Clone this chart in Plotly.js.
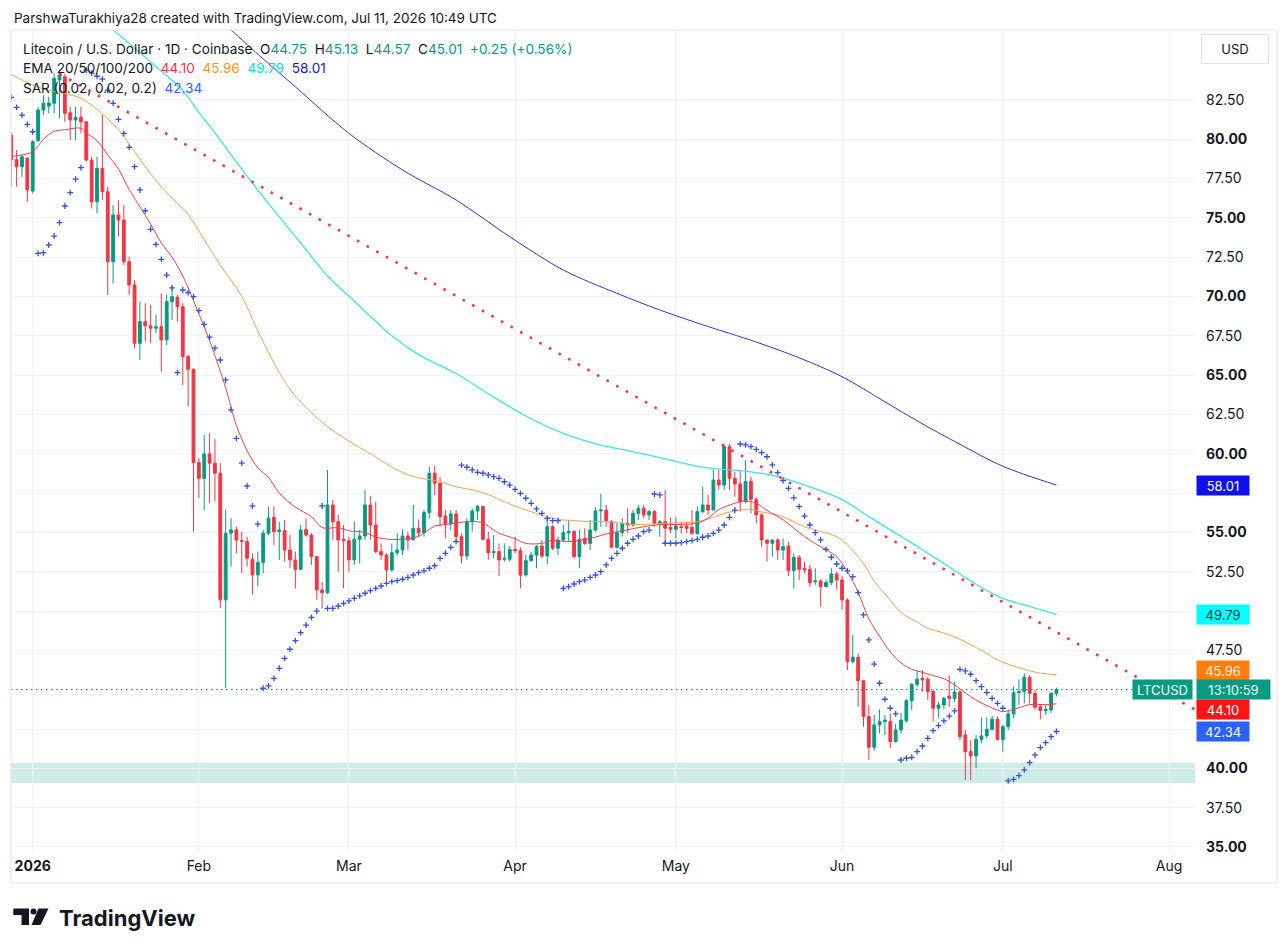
<!DOCTYPE html>
<html>
<head>
<meta charset="utf-8">
<script src="https://cdn.plot.ly/plotly-3.0.1.min.js"></script>
<style>
  html, body { margin: 0; padding: 0; background: #ffffff; }
  #chart { width: 1288px; height: 952px; }
</style>
</head>
<body>
<div id="chart"></div>
<script>
// LTC/USD daily, Dec 28 2025 .. Jul 11 2026 (one candle per day)
const firstDay = [2025, 11, 28];

const opens = [
  80.26, 78.70, 78.25, 78.80, 76.70, 79.90, 81.85, 82.10, 82.28, 83.76,
  83.97, 81.68, 81.22, 81.39, 81.11, 78.67, 76.02, 78.14, 76.66, 72.21,
  75.18, 74.86, 72.21, 70.73, 67.02, 68.40, 68.13, 67.98, 68.08, 67.24,
  69.67, 69.95, 69.35, 66.18, 65.37, 59.44, 58.44, 59.99, 59.40, 58.76,
  50.71, 54.95, 55.16, 54.48, 54.42, 53.29, 52.30, 53.08, 54.95, 55.96,
  55.05, 55.11, 53.88, 53.25, 52.65, 55.19, 54.83, 53.46, 51.34, 51.17,
  56.74, 55.68, 54.56, 54.47, 53.25, 54.56, 54.77, 56.74, 55.47, 53.78,
  53.56, 52.61, 53.71, 53.88, 54.77, 54.52, 55.26, 54.98, 56.26, 58.76,
  58.12, 56.04, 55.53, 56.17, 54.73, 53.50, 55.68, 56.36, 56.64, 54.56,
  53.71, 53.78, 53.29, 53.29, 53.92, 53.84, 52.29, 53.20, 53.56, 54.13,
  53.50, 55.36, 53.99, 54.52, 54.98, 55.05, 53.46, 54.62, 54.30, 55.15,
  56.36, 56.42, 55.68, 54.05, 54.98, 55.58, 55.47, 56.21, 56.53, 56.11,
  56.32, 55.58, 55.68, 55.32, 55.20, 55.36, 55.41, 55.32, 54.94, 56.32,
  56.74, 56.42, 58.33, 58.01, 60.45, 58.44, 58.08, 56.95, 58.23, 57.10,
  56.11, 54.52, 54.31, 54.52, 53.88, 54.14, 52.57, 53.42, 52.72, 52.65,
  51.87, 51.91, 51.55, 51.81, 52.36, 51.97, 50.70, 46.78, 47.06, 45.57,
  43.29, 41.34, 42.76, 42.97, 42.97, 41.70, 42.44, 43.03, 44.30, 45.34,
  45.72, 45.66, 44.88, 43.82, 44.03, 44.60, 44.45, 44.85, 42.12, 41.06,
  40.79, 41.84, 42.06, 42.48, 43.12, 41.84, 42.65, 43.46, 44.81, 44.87,
  45.79, 44.77, 43.92, 43.67, 43.71, 44.75
];
const highs = [
  80.40, 79.31, 79.00, 78.80, 79.94, 82.06, 82.80, 82.70, 84.18, 84.39,
  84.18, 82.06, 82.06, 82.06, 81.11, 78.88, 78.88, 81.53, 76.98, 75.81,
  76.13, 75.81, 72.53, 71.04, 69.67, 69.57, 69.46, 68.83, 70.20, 70.10,
  70.63, 70.10, 69.57, 66.28, 65.43, 59.71, 61.20, 61.30, 60.92, 59.40,
  56.43, 55.90, 55.37, 55.05, 54.73, 53.67, 53.78, 55.16, 56.64, 56.64,
  55.68, 55.79, 54.83, 53.78, 55.47, 55.89, 54.94, 53.50, 51.87, 58.97,
  57.06, 56.11, 55.47, 54.73, 55.68, 55.15, 57.70, 57.31, 56.95, 54.30,
  53.67, 54.30, 54.94, 55.19, 55.05, 56.74, 55.83, 56.42, 59.18, 59.22,
  58.54, 56.42, 56.42, 56.42, 54.94, 55.89, 56.53, 56.74, 56.68, 55.05,
  54.83, 54.30, 54.30, 54.13, 54.73, 54.05, 53.56, 53.78, 54.20, 54.52,
  56.00, 55.47, 54.73, 55.47, 55.79, 55.15, 55.15, 55.26, 55.79, 56.59,
  57.44, 56.74, 55.79, 55.58, 55.89, 56.53, 56.42, 56.74, 56.74, 56.42,
  56.42, 55.79, 57.70, 55.96, 55.96, 55.68, 55.68, 56.42, 56.64, 57.91,
  57.38, 58.97, 58.97, 60.62, 60.62, 58.86, 58.97, 59.60, 58.54, 57.20,
  56.21, 54.52, 54.52, 54.62, 54.62, 54.41, 53.67, 53.56, 53.14, 52.93,
  52.72, 52.02, 52.02, 52.72, 52.50, 52.23, 50.81, 48.48, 47.31, 45.62,
  44.03, 43.39, 43.75, 43.39, 43.50, 42.82, 43.50, 44.39, 45.41, 46.25,
  46.25, 45.83, 44.98, 44.24, 44.55, 45.90, 45.50, 45.00, 42.44, 41.80,
  42.12, 43.24, 43.24, 43.33, 43.29, 42.75, 43.71, 45.19, 45.66, 46.04,
  45.94, 44.98, 44.03, 44.03, 44.87, 45.13
];
const lows = [
  77.00, 76.98, 77.60, 76.02, 76.55, 79.84, 81.53, 81.64, 81.64, 81.32,
  81.11, 79.94, 79.94, 80.37, 78.57, 75.60, 75.28, 76.13, 70.09, 70.83,
  73.80, 72.00, 70.09, 66.70, 65.96, 67.13, 67.02, 67.66, 65.22, 66.92,
  68.51, 68.40, 64.37, 63.00, 55.05, 57.17, 56.43, 56.85, 56.96, 50.18,
  45.09, 52.83, 53.67, 52.40, 52.83, 51.03, 51.56, 52.40, 54.84, 54.20,
  53.25, 53.14, 52.72, 51.44, 52.61, 54.73, 52.93, 50.70, 50.17, 51.08,
  54.52, 52.50, 51.44, 52.50, 52.93, 53.03, 54.52, 54.52, 53.67, 53.25,
  51.76, 52.50, 53.56, 53.56, 53.88, 54.52, 54.73, 54.73, 55.89, 57.38,
  55.36, 54.62, 55.15, 54.41, 53.03, 53.25, 55.05, 55.79, 54.52, 53.25,
  53.35, 52.23, 53.14, 53.14, 53.67, 51.44, 52.19, 53.14, 52.72, 53.35,
  52.99, 53.88, 53.56, 54.41, 54.41, 53.35, 52.72, 54.20, 53.88, 55.05,
  55.36, 55.36, 53.99, 53.99, 54.73, 54.94, 55.36, 55.79, 55.89, 55.79,
  55.36, 54.73, 54.35, 54.94, 54.62, 54.94, 54.94, 54.84, 54.84, 56.21,
  56.11, 56.42, 57.70, 57.70, 57.70, 57.27, 56.32, 56.85, 56.21, 55.58,
  54.09, 53.14, 53.46, 53.25, 53.25, 52.23, 51.44, 51.97, 52.40, 51.55,
  51.66, 50.28, 51.51, 51.66, 51.34, 50.07, 46.25, 46.68, 43.92, 42.65,
  40.53, 41.12, 42.23, 42.12, 41.27, 41.63, 42.23, 42.90, 43.71, 45.19,
  44.88, 44.35, 42.97, 43.18, 43.75, 43.92, 44.20, 41.80, 39.26, 39.26,
  40.00, 41.59, 41.90, 42.40, 41.80, 41.06, 42.44, 43.20, 44.03, 44.13,
  44.13, 43.71, 43.12, 43.39, 43.50, 44.57
];
const closes = [
  78.70, 78.25, 78.88, 76.77, 79.84, 81.85, 82.28, 82.30, 83.86, 84.08,
  81.64, 81.22, 81.39, 81.11, 78.67, 76.02, 78.14, 76.66, 72.21, 75.18,
  74.86, 72.21, 70.73, 67.02, 68.40, 68.13, 67.98, 68.08, 67.24, 69.67,
  69.99, 69.35, 66.18, 65.37, 59.44, 58.44, 59.99, 59.40, 58.76, 50.71,
  54.95, 55.16, 54.52, 54.42, 53.36, 52.30, 53.08, 54.95, 55.90, 55.05,
  55.15, 53.88, 53.25, 52.65, 55.15, 54.83, 53.46, 51.34, 51.17, 56.74,
  55.68, 54.52, 54.47, 53.25, 54.56, 54.77, 56.74, 55.47, 53.78, 53.56,
  52.61, 53.71, 53.88, 54.77, 54.52, 55.26, 54.98, 56.26, 58.76, 58.12,
  56.00, 55.53, 56.17, 54.73, 53.50, 55.68, 56.36, 56.64, 54.56, 53.71,
  53.78, 53.25, 53.35, 53.92, 53.84, 52.29, 53.20, 53.56, 54.09, 53.50,
  55.36, 53.99, 54.52, 54.98, 55.05, 53.46, 54.56, 54.30, 55.15, 56.36,
  56.42, 55.75, 54.05, 54.98, 55.58, 55.47, 56.21, 56.53, 56.11, 56.32,
  55.58, 55.68, 55.26, 55.20, 55.41, 55.32, 55.26, 54.94, 56.32, 56.74,
  56.42, 58.33, 58.01, 60.45, 58.44, 58.08, 56.95, 58.23, 57.10, 56.11,
  54.52, 54.31, 54.52, 53.88, 54.09, 52.57, 53.42, 52.65, 52.61, 51.81,
  51.91, 51.55, 51.81, 52.36, 51.97, 50.70, 46.78, 47.06, 45.57, 43.29,
  41.34, 42.76, 42.97, 43.07, 41.70, 42.44, 43.07, 44.30, 45.34, 45.66,
  45.62, 44.88, 43.82, 44.03, 44.45, 44.45, 44.85, 42.01, 41.06, 40.79,
  41.84, 42.06, 42.48, 43.12, 41.84, 42.65, 43.46, 44.81, 44.87, 45.79,
  44.77, 43.88, 43.67, 43.75, 44.76, 45.01
];

// Parabolic SAR (0.02, 0.02, 0.2), one dot per day
const sar = [
  82.66, 82.02, 81.53, 80.94, 80.47, 72.74, 72.78, 73.27, 73.84, 74.69,
  75.75, 76.60, 77.46, 78.19, 84.39, 84.20, 84.00, 83.82, 83.12, 82.28,
  81.26, 80.37, 79.48, 78.25, 76.77, 75.45, 74.27, 73.31, 72.36, 71.36,
  70.55, 65.16, 70.41, 70.24, 69.99, 69.10, 68.23, 67.41, 66.71, 65.96,
  64.69, 62.79, 60.98, 59.40, 57.95, 56.68, 55.52, 45.09, 45.24, 45.72,
  46.36, 46.99, 47.57, 48.12, 48.63, 49.11, 49.60, 50.00, 56.68, 50.17,
  50.17, 50.32, 50.49, 50.64, 50.81, 50.96, 51.13, 51.30, 51.44, 51.59,
  51.76, 51.87, 51.93, 52.02, 52.14, 52.29, 52.44, 52.55, 52.72, 52.88,
  53.35, 53.67, 54.05, 54.41, 59.28, 59.14, 58.97, 58.82, 58.76, 58.65,
  58.54, 58.44, 58.22, 58.01, 57.74, 57.48, 57.17, 56.85, 56.49, 56.21,
  55.89, 55.75, 55.75, 51.44, 51.55, 51.72, 51.87, 51.97, 52.14, 52.29,
  52.50, 52.93, 53.35, 53.67, 53.99, 54.31, 54.56, 54.77, 55.05, 55.15,
  57.44, 57.38, 54.31, 54.31, 54.31, 54.35, 54.41, 54.48, 54.56, 54.69,
  54.77, 54.94, 55.15, 55.47, 55.96, 56.42, 60.62, 60.56, 60.45, 60.28,
  60.07, 59.81, 59.29, 58.80, 58.30, 57.80, 57.20, 56.64, 56.04, 55.47,
  54.98, 54.52, 53.92, 53.42, 52.99, 52.72, 52.55, 52.19, 51.17, 49.75,
  48.16, 46.63, 45.41, 44.39, 43.82, 43.46, 40.53, 40.64, 40.70, 41.06,
  41.42, 41.91, 42.40, 42.72, 43.02, 43.32, 43.65, 46.29, 46.19, 45.98,
  45.57, 45.19, 44.81, 44.45, 44.13, 43.82, 39.20, 39.30, 39.54, 39.90,
  40.36, 40.85, 41.32, 41.63, 42.01, 42.34
];

// EMA lines, day number (1 = Dec 28) -> value
const ema20Day = [1, 5, 7, 9, 11, 14, 15, 17, 19, 21, 23, 25, 27, 29, 31, 33, 36, 38, 41, 43,
  45, 47, 49, 51, 54, 57, 59, 62, 64, 67, 69, 72, 75, 77, 80, 82, 84, 87, 89, 90,
  92, 95, 97, 100, 102, 105, 107, 110, 112, 115, 118, 122, 126, 129, 131, 133, 136, 138, 140, 142,
  145, 148, 150, 153, 155, 157, 159, 161, 163, 165, 167, 169, 171, 173, 175, 177, 180, 182, 185, 186,
  189, 191, 194, 196];
const ema20Val = [78.9, 79.2, 80.0, 80.5, 80.6, 80.7, 80.4, 79.9, 79.0, 78.1, 76.8, 75.7, 74.6, 73.4, 72.5, 71.3, 68.9, 67.2, 64.2, 61.8,
  60.2, 59.1, 58.5, 57.5, 56.6, 56.0, 55.3, 55.3, 55.1, 55.0, 54.7, 54.55, 54.6, 54.75, 55.4, 55.5, 55.6, 55.7, 55.6, 55.4,
  54.95, 54.6, 54.3, 54.3, 54.5, 54.4, 54.5, 54.7, 54.9, 55.1, 55.3, 55.5, 55.5, 55.6, 55.9, 56.45, 56.85, 57.0, 56.85, 56.4,
  55.8, 55.0, 54.5, 53.9, 53.45, 52.5, 51.2, 49.5, 48.4, 47.4, 46.7, 46.3, 46.1, 45.9, 45.7, 45.3, 44.55, 44.15, 43.7, 43.6,
  43.85, 44.05, 44.05, 44.10];

const ema50Day = [1, 5, 8, 11, 14, 17, 21, 24, 27, 30, 34, 37, 40, 44, 48, 53, 59, 64, 68, 72,
  76, 81, 84, 87, 90, 93, 96, 100, 103, 106, 109, 112, 117, 123, 129, 132, 134, 137, 139, 141,
  143, 145, 149, 155, 157, 160, 162, 165, 167, 170, 172, 175, 178, 182, 185, 188, 191, 193, 196];
const ema50Val = [84.1, 83.45, 83.1, 82.9, 82.6, 81.9, 80.6, 79.2, 77.8, 76.6, 75.2, 73.6, 72.0, 70.0, 67.1, 64.1, 62.0, 60.8, 60.0, 59.15,
  58.55, 58.23, 57.9, 57.7, 57.4, 56.95, 56.55, 56.1, 55.83, 55.75, 55.68, 55.7, 55.5, 55.58, 55.68, 55.96, 56.2, 56.42, 56.47, 56.3,
  56.17, 56.0, 55.36, 54.73, 54.2, 53.03, 51.9, 50.7, 49.9, 49.3, 48.9, 48.6, 48.2, 47.5, 46.9, 46.5, 46.2, 46.05, 45.96];

const ema100Day = [16, 20, 27, 33, 36, 39, 44, 49, 55, 60, 65, 72, 77, 84, 91, 97, 104, 111, 116, 122,
  129, 135, 139, 144, 150, 156, 161, 167, 171, 176, 181, 186, 191, 196];
const ema100Val = [88.0, 86.95, 84.9, 83.1, 81.7, 80.4, 78.1, 75.9, 73.4, 71.3, 69.7, 67.5, 66.3, 65.1, 63.6, 62.4, 61.3, 60.55, 60.2, 59.75,
  59.2, 58.97, 58.85, 58.55, 57.9, 57.1, 56.0, 54.75, 53.9, 52.8, 51.7, 50.8, 50.3, 49.79];

const ema200Day = [38, 42, 48, 54, 64, 74, 84, 94, 104, 114, 122, 130, 140, 148, 156, 164, 171, 178, 186, 196];
const ema200Val = [88.1, 86.94, 85.1, 83.33, 80.37, 78.04, 76.13, 73.8, 71.68, 70.2, 69.14, 68.2, 67.1, 66.1, 64.9, 63.3, 61.9, 60.6, 59.2, 58.01];

// drawn objects
const trendDates = ['2026-01-06', '2026-08-10'];
const trendValues = [84.15, 42.94];
const supportZone = [39.07, 40.34];

// axes
const monthTicks = ['2026-01-01', '2026-02-01', '2026-03-01', '2026-04-01', '2026-05-01', '2026-06-01', '2026-07-01', '2026-08-01'];
const monthLabels = ['<b>2026</b>', 'Feb', 'Mar', 'Apr', 'May', 'Jun', 'Jul', 'Aug'];
const priceTicks = [35, 37.5, 40, 42.5, 45, 47.5, 50, 52.5, 55, 57.5, 60, 62.5, 65, 67.5, 70, 72.5, 75, 77.5, 80, 82.5];
const coveredTicks = [42.5, 45, 50, 57.5];   // hidden behind the price tags

const FONT = 'Inter, "Noto Sans", sans-serif';
const GREEN = '#089981';
const RED = '#F23645';
const INK = '#131722';

function dayFrom(i) {
  const d = new Date(Date.UTC(firstDay[0], firstDay[1], firstDay[2] + i));
  return d.toISOString().slice(0, 10);
}
const dates = opens.map((_, i) => dayFrom(i));
const byDay = days => days.map(n => dayFrom(n - 1));

function emaLine(days, vals, color, width) {
  return {
    type: 'scatter', mode: 'lines',
    x: byDay(days), y: vals,
    line: { color: color, width: width, shape: 'spline', smoothing: 0.9 },
    hoverinfo: 'skip', showlegend: false
  };
}

const candles = {
  type: 'candlestick',
  x: dates, open: opens, high: highs, low: lows, close: closes,
  increasing: { line: { color: GREEN, width: 1 }, fillcolor: GREEN },
  decreasing: { line: { color: RED, width: 1 }, fillcolor: RED },
  whiskerwidth: 0,
  hoverinfo: 'skip', showlegend: false
};

const sarDots = {
  type: 'scatter', mode: 'markers',
  x: dates, y: sar,
  marker: { symbol: 'cross-thin', size: 4.2, line: { width: 1.3, color: '#3453D6' } },
  hoverinfo: 'skip', showlegend: false
};

const trend = {
  type: 'scatter', mode: 'lines',
  x: trendDates, y: trendValues,
  line: { color: RED, width: 2.6, dash: '2.6px,8.4px' },
  hoverinfo: 'skip', showlegend: false
};

const last = closes.length - 1;
const chg = closes[last] - closes[last - 1];
const pct = chg / closes[last - 1] * 100;
const f2 = v => v.toFixed(2);
const col = (c, t) => '<span style="color:' + c + '">' + t + '</span>';
const sp = '&nbsp;&nbsp;';

const e20 = ema20Val[ema20Val.length - 1];
const e50 = ema50Val[ema50Val.length - 1];
const e100 = ema100Val[ema100Val.length - 1];
const e200 = ema200Val[ema200Val.length - 1];
const sarLast = sar[last];

// pixel helpers for paper coordinates (plot area 11..1195 x 30..852)
const px = x => (x - 11) / 1184;
const py = y => (852 - y) / 822;

const legendLine1 = 'Litecoin / U.S. Dollar · 1D · Coinbase' + sp +
  'O' + col(GREEN, f2(opens[last])) + sp +
  'H' + col(GREEN, f2(highs[last])) + sp +
  'L' + col(GREEN, f2(lows[last])) + sp +
  'C' + col(GREEN, f2(closes[last])) + sp +
  col(GREEN, (chg >= 0 ? '+' : '') + f2(chg) + ' (' + (chg >= 0 ? '+' : '') + f2(pct) + '%)');
const legendLine2 = 'EMA 20/50/100/200' + sp + col(RED, f2(e20)) + sp + col('#F7931A', f2(e50)) + sp +
  col('#00E0F0', f2(e100)) + sp + col('#1A1AB8', f2(e200));
const legendLine3 = 'SAR (0.02, 0.02, 0.2)' + sp + col('#2962FF', f2(sarLast));

function textNote(x, y, text, size, extra) {
  return Object.assign({
    xref: 'paper', yref: 'paper', x: x, y: y, xanchor: 'left', yanchor: 'middle',
    text: text, showarrow: false, align: 'left',
    font: { family: FONT, size: size, color: INK }
  }, extra || {});
}

function priceTag(value, text, bg, fg, yshift, w) {
  return {
    xref: 'paper', yref: 'y', x: 1, y: value, xanchor: 'left', yanchor: 'middle',
    xshift: 1, yshift: yshift || 0,
    text: text, showarrow: false, bgcolor: bg, borderpad: 1,
    width: w || 50, height: 17, align: 'center',
    font: { family: FONT, size: 13, color: fg }
  };
}

const annotations = [
  textNote(px(12), py(18), 'ParshwaTurakhiya28 created with TradingView.com, Jul 11, 2026 10:49 UTC', 13.5),
  textNote(px(21), py(49), legendLine1, 13.6),
  textNote(px(21), py(68), legendLine2, 13.6),
  textNote(px(21), py(88), legendLine3, 13.6),
  {
    xref: 'paper', yref: 'paper', x: px(1235), y: py(49), xanchor: 'center', yanchor: 'middle',
    text: 'USD', showarrow: false, bordercolor: '#E0E3EB', borderwidth: 1, borderpad: 6,
    width: 54, font: { family: FONT, size: 13, color: INK }
  },
  priceTag(e200, f2(e200), '#1010EE', '#FFFFFF'),
  priceTag(e100, f2(e100), '#00FFFF', '#0C3B40'),
  priceTag(e50, f2(e50), '#FF7F0A', '#FFF3E6', 4.5),
  priceTag(closes[last], '13:10:59', GREEN, '#E8FFF9', 0, 71),
  {
    xref: 'paper', yref: 'y', x: 1, y: closes[last], xanchor: 'right', yanchor: 'middle',
    xshift: -2, text: 'LTCUSD', showarrow: false, bgcolor: GREEN, borderpad: 1,
    width: 57, height: 17, font: { family: FONT, size: 13, color: '#FFFFFF' }
  },
  priceTag(e20, f2(e20), '#FF1414', '#FFFFFF', -5.3),
  priceTag(sarLast, f2(sarLast), '#2962FF', '#FFFFFF'),
  textNote(px(57), py(918), '<b>TradingView</b>', 22)
];

const shapes = [
  {
    type: 'rect', xref: 'paper', yref: 'y', x0: 0, x1: 1,
    y0: supportZone[0], y1: supportZone[1],
    fillcolor: 'rgba(34,171,148,0.22)', line: { width: 0 }, layer: 'below'
  },
  {
    type: 'line', xref: 'paper', yref: 'y', x0: 0, x1: 1,
    y0: closes[last], y1: closes[last],
    line: { color: GREEN, width: 1.2, dash: '1.5px,3.5px' }
  },
  {
    type: 'rect', xref: 'paper', yref: 'paper', x0: 0, x1: px(1277), y0: py(883), y1: 1,
    line: { color: '#E0E3EB', width: 1 }, fillcolor: 'rgba(0,0,0,0)'
  },
  // TradingView logo
  {
    type: 'path', xref: 'paper', yref: 'paper', fillcolor: INK, line: { width: 0 },
    path: 'M ' + px(13.3) + ',' + py(908.5) + ' L ' + px(29) + ',' + py(908.5) + ' L ' + px(29) + ',' + py(925) +
      ' L ' + px(21.5) + ',' + py(925) + ' L ' + px(21.5) + ',' + py(915) + ' L ' + px(13.3) + ',' + py(915) + ' Z'
  },
  {
    type: 'circle', xref: 'paper', yref: 'paper', fillcolor: INK, line: { width: 0 },
    x0: px(30.5), x1: px(36.5), y0: py(914.5), y1: py(908.5)
  },
  {
    type: 'path', xref: 'paper', yref: 'paper', fillcolor: INK, line: { width: 0 },
    path: 'M ' + px(38.5) + ',' + py(908.5) + ' L ' + px(48.5) + ',' + py(908.5) + ' L ' + px(40.5) + ',' + py(925) +
      ' L ' + px(31.5) + ',' + py(925) + ' Z'
  }
];

const layout = {
  width: 1288, height: 952,
  margin: { l: 11, r: 93, t: 30, b: 100 },
  paper_bgcolor: '#FFFFFF', plot_bgcolor: '#FFFFFF',
  showlegend: false, hovermode: false,
  boxgap: 0.25,
  font: { family: FONT, color: INK },
  xaxis: {
    type: 'date',
    range: ['2025-12-27 22:50', '2026-08-05 20:24'],
    rangeslider: { visible: false },
    tickvals: monthTicks, ticktext: monthLabels,
    tickfont: { family: FONT, size: 14, color: INK },
    ticklabelstandoff: 4,
    showgrid: true, gridcolor: '#F0F3FA', gridwidth: 1,
    showline: false, zeroline: false, ticks: '', fixedrange: true
  },
  yaxis: {
    side: 'right',
    range: [34.68, 86.94],
    tickvals: priceTicks,
    ticktext: priceTicks.map(v => coveredTicks.includes(v) ? '' :
      (v % 5 === 0 ? '<b>' + v.toFixed(2) + '</b>' : v.toFixed(2))),
    tickfont: { family: FONT, size: 14, color: INK },
    ticklabelstandoff: 10,
    showgrid: true, gridcolor: '#F0F3FA', gridwidth: 1,
    showline: false, zeroline: false, ticks: '', fixedrange: true
  },
  shapes: shapes,
  annotations: annotations
};

Plotly.newPlot('chart', [
  candles,
  emaLine(ema200Day, ema200Val, '#3434C8', 1),
  emaLine(ema100Day, ema100Val, '#3FE3EC', 1.3),
  emaLine(ema50Day, ema50Val, '#F5A04E', 1),
  emaLine(ema20Day, ema20Val, '#E8424F', 1),
  trend,
  sarDots
], layout, { staticPlot: true, displayModeBar: false });
</script>
</body>
</html>
